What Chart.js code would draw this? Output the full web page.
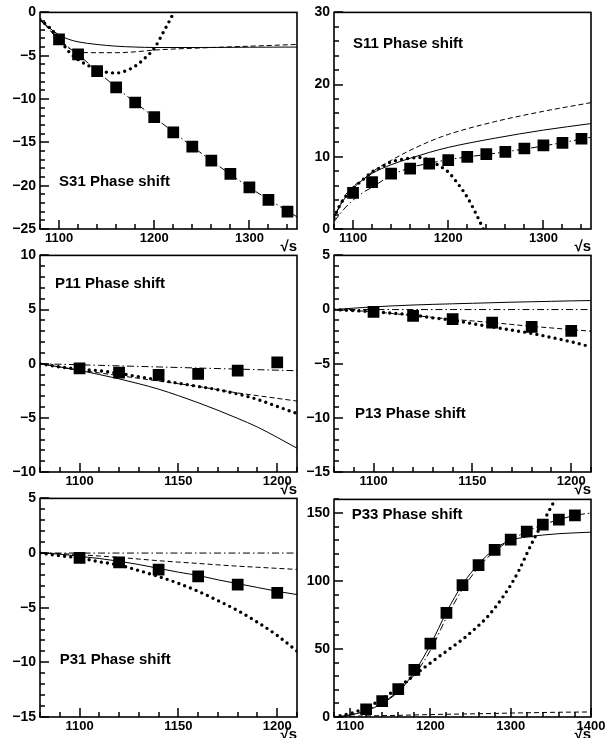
<!DOCTYPE html>
<html>
<head>
<meta charset="utf-8">
<script src="https://cdn.jsdelivr.net/npm/chart.js@4.4.1/dist/chart.umd.min.js"></script>
<style>
  body { margin: 0; background: #fff; width: 613px; height: 738px; position: relative; overflow: hidden; }
  canvas { position: absolute; }
</style>
</head>
<body>
<script>
// S31
const s31X = [1100, 1120, 1140, 1160, 1180, 1200, 1220, 1240, 1260, 1280, 1300, 1320, 1340];
const s31Phase = [-3.1, -4.85, -6.77, -8.65, -10.4, -12.1, -13.85, -15.5, -17.1, -18.65, -20.2, -21.65, -23.0];
const s31CurveX = [1080, 1090, 1100, 1110, 1120, 1140, 1160, 1180, 1200, 1250, 1300, 1350];
const s31Solid = [-0.8, -1.8, -2.6, -3.1, -3.4, -3.7, -3.9, -4.0, -4.05, -4.05, -4.02, -4.0];
const s31Dashed = [-0.8, -2.0, -3.3, -4.1, -4.6, -4.65, -4.65, -4.55, -4.35, -4.1, -3.9, -3.7];
const s31DashDot = [-0.9, -2.0, -3.1, -4.0, -4.85, -6.77, -8.65, -10.4, -12.1, -16.3, -20.2, -23.6];
const s31DotX = [1080, 1090, 1100, 1110, 1120, 1130, 1140, 1150, 1160, 1170, 1180, 1190, 1200, 1210, 1220, 1225];
const s31Dotted = [-0.8, -1.75, -3.0, -4.5, -5.45, -6.1, -6.6, -6.9, -7.0, -6.75, -6.2, -5.3, -4.15, -2.2, -0.1, 1.2];

// S11
const s11X = [1100, 1120, 1140, 1160, 1180, 1200, 1220, 1240, 1260, 1280, 1300, 1320, 1340];
const s11Phase = [5.0, 6.5, 7.68, 8.37, 9.07, 9.53, 10.0, 10.36, 10.68, 11.15, 11.57, 11.93, 12.5];
const s11CurveX = [1080, 1090, 1100, 1110, 1120, 1140, 1160, 1180, 1200, 1250, 1300, 1350];
const s11Solid = [1.7, 4.0, 5.6, 6.8, 7.7, 8.9, 9.8, 10.6, 11.3, 12.6, 13.7, 14.6];
const s11Dashed = [1.5, 4.3, 5.9, 6.8, 7.9, 9.5, 10.9, 12.1, 13.1, 14.9, 16.3, 17.5];
const s11DashDot = [1.0, 2.7, 4.0, 5.0, 5.8, 7.4, 8.5, 9.1, 9.6, 10.5, 11.5, 12.7];
const s11DotX = [1080, 1085, 1090, 1100, 1110, 1120, 1130, 1140, 1150, 1160, 1170, 1180, 1190, 1200, 1210, 1220, 1230, 1240];
const s11Dotted = [1.5, 3.0, 4.1, 5.6, 6.8, 7.9, 8.6, 9.3, 9.6, 9.8, 9.9, 9.5, 8.8, 7.9, 6.3, 4.4, 1.9, -0.9];

// P11, P13, P31 share the energy points
const pX = [1100, 1120, 1140, 1160, 1180, 1200];
const pCurveX = [1080, 1090, 1100, 1110, 1120, 1130, 1140, 1150, 1160, 1170, 1180, 1190, 1200, 1210];

const p11Phase = [-0.43, -0.83, -1.04, -0.95, -0.64, 0.13];
const p11Solid = [0, -0.3, -0.62, -1.0, -1.4, -1.85, -2.35, -2.95, -3.6, -4.3, -5.05, -5.85, -6.8, -7.8];
const p11Dashed = [0, -0.3, -0.6, -0.85, -1.1, -1.35, -1.6, -1.85, -2.1, -2.4, -2.7, -2.95, -3.2, -3.45];
const p11DashDot = [0, -0.05, -0.1, -0.15, -0.2, -0.25, -0.3, -0.35, -0.4, -0.45, -0.5, -0.55, -0.6, -0.65];
const p11Dotted = [0, -0.3, -0.5, -0.65, -0.9, -1.2, -1.5, -1.8, -2.1, -2.4, -2.8, -3.3, -3.95, -4.6];

const p13Phase = [-0.22, -0.59, -0.89, -1.2, -1.6, -1.97];
const p13Solid = [0, 0.13, 0.25, 0.34, 0.42, 0.48, 0.53, 0.58, 0.63, 0.68, 0.72, 0.76, 0.8, 0.83];
const p13Dashed = [0, -0.1, -0.2, -0.38, -0.55, -0.72, -0.9, -1.05, -1.2, -1.38, -1.55, -1.7, -1.85, -2.0];
const p13DashDot = [0, 0, 0, 0, 0, 0, 0, 0, 0, 0, 0, 0, 0, 0];
const p13Dotted = [0, -0.1, -0.2, -0.34, -0.5, -0.77, -0.98, -1.3, -1.6, -1.9, -2.2, -2.58, -2.98, -3.44];

const p31Phase = [-0.45, -0.85, -1.52, -2.13, -2.89, -3.65];
const p31Solid = [0, -0.1, -0.3, -0.5, -0.75, -1.05, -1.4, -1.75, -2.05, -2.45, -2.8, -3.15, -3.5, -3.8];
const p31Dashed = [0, -0.05, -0.15, -0.27, -0.4, -0.55, -0.7, -0.83, -0.95, -1.08, -1.2, -1.3, -1.4, -1.5];
const p31DashDot = [0, 0, 0, 0, 0, 0, 0, 0, 0, 0, 0, 0, 0, 0];
const p31Dotted = [0, -0.25, -0.45, -0.8, -1.1, -1.6, -2.15, -2.77, -3.5, -4.35, -5.26, -6.33, -7.54, -8.97];

// P33
const p33X = [1120, 1140, 1160, 1180, 1200, 1220, 1240, 1260, 1280, 1300, 1320, 1340, 1360, 1380];
const p33Phase = [5.7, 11.6, 20.5, 34.6, 53.9, 76.6, 96.9, 111.7, 122.8, 130.5, 136.4, 141.4, 145.1, 148.3];
const p33CurveX = [1080, 1100, 1120, 1140, 1160, 1180, 1200, 1220, 1240, 1260, 1280, 1300, 1320, 1340, 1360, 1380, 1400];
const p33Solid = [0, 1.5, 4.5, 10, 18.5, 33, 53, 77, 97.5, 112.5, 123.5, 130, 132.3, 133.8, 134.8, 135.4, 135.9];
const p33DashDot = [0, 1.5, 5, 10.5, 19, 31, 49, 73, 94, 110, 122, 130, 136.4, 141.4, 145.1, 148.3, 150];
const p33Dashed = [0, 0.5, 0.8, 1.0, 1.2, 1.5, 1.8, 2.0, 2.2, 2.4, 2.6, 2.9, 3.1, 3.3, 3.5, 3.6, 3.7];
const p33DotX = [1080, 1090, 1100, 1110, 1120, 1130, 1140, 1150, 1160, 1170, 1180, 1190, 1200, 1210, 1220,
  1230, 1240, 1250, 1260, 1270, 1280, 1290, 1300, 1310, 1320, 1330, 1340, 1350, 1360];
const p33Dotted = [0, 1.2, 2.5, 4.5, 7.0, 9.8, 13.2, 17.3, 21.8, 26.2, 30.8, 35.3, 39.7, 44.1, 48.4,
  52.7, 57.0, 62.0, 67.3, 73.0, 80.0, 88.0, 97.0, 107.5, 120, 132, 143, 154, 165];

// ticks
const xTicksWide = [1100, 1200, 1300];
const xTicksNarrow = [1100, 1150, 1200];
const xTicksP33 = [1100, 1200, 1300, 1400];
const yTicksS31 = [-25, -20, -15, -10, -5, 0];
const yTicksS11 = [0, 10, 20, 30];
const yTicksP11 = [-10, -5, 0, 5, 10];
const yTicksP13 = [-15, -10, -5, 0, 5];
const yTicksP33 = [0, 50, 100, 150];

const FONT = '"Liberation Sans", Arial, sans-serif';

function pts(xs, ys) { return xs.map((x, i) => ({ x, y: ys[i] })); }

const lineKinds = {
  solid: { borderDash: [], borderWidth: 1 },
  dashed: { borderDash: [5, 3], borderWidth: 1 },
  dashdot: { borderDash: [7, 3, 1.5, 3], borderWidth: 1 },
  dotted: { borderDash: [0, 6.2], borderWidth: 3.4, borderCapStyle: 'round' },
};

function curve(xs, ys, kind) {
  return Object.assign({
    data: pts(xs, ys), borderColor: '#000', pointRadius: 0, fill: false,
    cubicInterpolationMode: 'monotone',
  }, lineKinds[kind]);
}

function squares(xs, ys) {
  return {
    data: pts(xs, ys), showLine: false, pointStyle: 'rect', pointRadius: 8.3,
    backgroundColor: '#000', borderColor: '#000', borderWidth: 0,
  };
}

// frame, inward ticks, panel label and the sqrt(s) axis label
const rootStyle = {
  id: 'rootStyle',
  afterDraw(chart) {
    const { ctx, chartArea: a, scales: { x, y } } = chart;
    const o = chart.options.plugins.rootStyle;
    ctx.save();
    ctx.strokeStyle = '#000';
    ctx.lineWidth = 1.5;
    ctx.beginPath();
    for (let v = x.min; v <= x.max + 1e-6; v += o.xMinor) {
      const px = Math.round(x.getPixelForValue(v));
      const len = o.xTicks.includes(v) ? 9 : 5;
      ctx.moveTo(px, a.bottom); ctx.lineTo(px, a.bottom - len);
    }
    for (let v = y.min; v <= y.max + 1e-6; v += o.yMinor) {
      const py = Math.round(y.getPixelForValue(v));
      const len = o.yTicks.includes(Math.round(v * 1000) / 1000) ? 9 : 5;
      ctx.moveTo(a.left, py); ctx.lineTo(a.left + len, py);
    }
    ctx.stroke();
    ctx.lineWidth = 1.6;
    ctx.strokeRect(a.left, a.top, a.right - a.left, a.bottom - a.top);

    ctx.fillStyle = '#000';
    ctx.font = 'bold 15px ' + FONT;
    ctx.textBaseline = 'middle';
    ctx.textAlign = 'left';
    ctx.fillText(o.label, x.getPixelForValue(o.labelAt[0]), y.getPixelForValue(o.labelAt[1]));

    ctx.font = 'bold 15px ' + FONT;
    ctx.textAlign = 'right';
    ctx.fillText('\u221As', a.right, a.bottom + 18);
    ctx.restore();
  }
};

function panel(frame, xr, yr, xTicks, yTicks, xMinor, yMinor, label, labelAt, datasets) {
  const padTop = 12, padLeft = 40, padRight = 18, padBottom = 28;
  const w = frame[2] - frame[0], h = frame[3] - frame[1];
  const cv = document.createElement('canvas');
  cv.width = w + padLeft + padRight;
  cv.height = h + padTop + padBottom;
  cv.style.left = (frame[0] - padLeft) + 'px';
  cv.style.top = (frame[1] - padTop) + 'px';
  document.body.appendChild(cv);

  const tickFont = { family: FONT, size: 13, weight: 'bold' };
  new Chart(cv, {
    type: 'line',
    data: { datasets },
    plugins: [rootStyle],
    options: {
      responsive: false,
      animation: false,
      layout: { padding: { top: padTop, right: padRight, left: 0, bottom: 0 } },
      plugins: {
        legend: { display: false },
        tooltip: { enabled: false },
        rootStyle: { xTicks, yTicks, xMinor, yMinor, label, labelAt },
      },
      scales: {
        x: {
          type: 'linear', min: xr[0], max: xr[1],
          afterBuildTicks: s => { s.ticks = xTicks.map(v => ({ value: v })); },
          afterFit: s => { s.height = padBottom; },
          grid: { display: false, drawTicks: false },
          border: { display: false },
          ticks: {
            font: tickFont, color: '#000', padding: 2, maxRotation: 0, autoSkip: false,
            callback: v => String(v),
          },
        },
        y: {
          type: 'linear', min: yr[0], max: yr[1],
          afterBuildTicks: s => { s.ticks = yTicks.map(v => ({ value: v })); },
          afterFit: s => { s.width = padLeft; },
          grid: { display: false, drawTicks: false },
          border: { display: false },
          ticks: {
            font: { family: FONT, size: 14, weight: 'bold' }, color: '#000', padding: 4, autoSkip: false,
            callback: v => String(v).replace('-', '\u2212'),
          },
        },
      },
    },
  });
}

panel([40, 12, 297, 229], [1080, 1350], [-25, 0], xTicksWide, yTicksS31, 20, 1,
  'S31 Phase shift', [1100, -19.6], [
    squares(s31X, s31Phase),
    curve(s31CurveX, s31Solid, 'solid'),
    curve(s31CurveX, s31Dashed, 'dashed'),
    curve(s31CurveX, s31DashDot, 'dashdot'),
    curve(s31DotX, s31Dotted, 'dotted'),
  ]);

panel([334, 12, 591, 229], [1080, 1350], [0, 30], xTicksWide, yTicksS11, 20, 2,
  'S11 Phase shift', [1100, 25.6], [
    squares(s11X, s11Phase),
    curve(s11CurveX, s11Solid, 'solid'),
    curve(s11CurveX, s11Dashed, 'dashed'),
    curve(s11CurveX, s11DashDot, 'dashdot'),
    curve(s11DotX, s11Dotted, 'dotted'),
  ]);

panel([40, 255, 297, 472], [1080, 1210], [-10, 10], xTicksNarrow, yTicksP11, 10, 1,
  'P11 Phase shift', [1087.6, 7.4], [
    squares(pX, p11Phase),
    curve(pCurveX, p11Solid, 'solid'),
    curve(pCurveX, p11Dashed, 'dashed'),
    curve(pCurveX, p11DashDot, 'dashdot'),
    curve(pCurveX, p11Dotted, 'dotted'),
  ]);

panel([334, 255, 591, 472], [1080, 1210], [-15, 5], xTicksNarrow, yTicksP13, 10, 1,
  'P13 Phase shift', [1090.6, -9.65], [
    squares(pX, p13Phase),
    curve(pCurveX, p13Solid, 'solid'),
    curve(pCurveX, p13Dashed, 'dashed'),
    curve(pCurveX, p13DashDot, 'dashdot'),
    curve(pCurveX, p13Dotted, 'dotted'),
  ]);

panel([40, 498, 297, 717], [1080, 1210], [-15, 5], xTicksNarrow, yTicksP13, 10, 1,
  'P31 Phase shift', [1090, -9.73], [
    squares(pX, p31Phase),
    curve(pCurveX, p31Solid, 'solid'),
    curve(pCurveX, p31Dashed, 'dashed'),
    curve(pCurveX, p31DashDot, 'dashdot'),
    curve(pCurveX, p31Dotted, 'dotted'),
  ]);

panel([334, 499, 591, 717], [1080, 1400], [0, 160], xTicksP33, yTicksP33, 20, 10,
  'P33 Phase shift', [1102, 148.3], [
    squares(p33X, p33Phase),
    curve(p33CurveX, p33Solid, 'solid'),
    curve(p33CurveX, p33Dashed, 'dashed'),
    curve(p33CurveX, p33DashDot, 'dashdot'),
    curve(p33DotX, p33Dotted, 'dotted'),
  ]);
</script>
</body>
</html>
